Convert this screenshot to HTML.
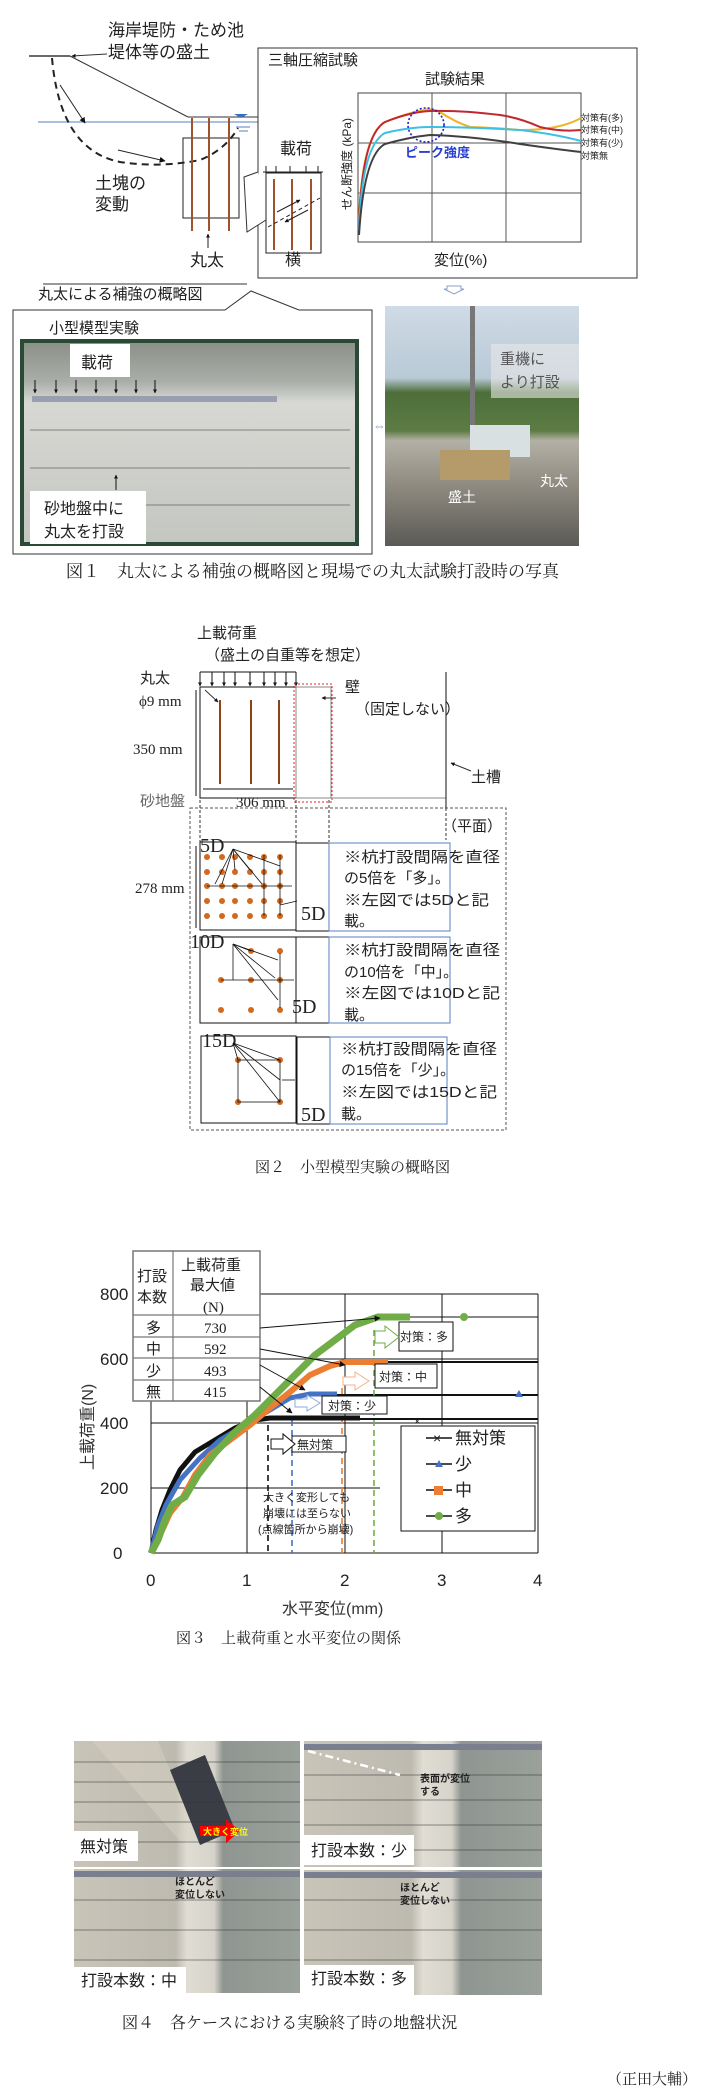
<!DOCTYPE html>
<html><head><meta charset="utf-8"><style>
html,body{margin:0;padding:0;background:#fff;}
svg{display:block;}
text{font-family:"Liberation Sans","Noto Sans CJK JP",sans-serif;fill:#222;}
.s{font-family:"Liberation Serif","Noto Serif CJK JP",serif;}
</style></head><body>
<svg width="705" height="2095" viewBox="0 0 705 2095" xmlns="http://www.w3.org/2000/svg">
<defs>
<marker id="ah" viewBox="0 0 10 10" refX="9" refY="5" markerWidth="6" markerHeight="6" orient="auto"><path d="M0,0L10,5L0,10z" fill="#111"/></marker>
<marker id="ahs" viewBox="0 0 10 10" refX="9" refY="5" markerWidth="4" markerHeight="4" orient="auto"><path d="M0,0L10,5L0,10z" fill="#111"/></marker>
<linearGradient id="sky" x1="0" y1="0" x2="0" y2="1"><stop offset="0" stop-color="#cfdbe6"/><stop offset="0.3" stop-color="#b9c9d6"/><stop offset="0.36" stop-color="#4d6e3a"/><stop offset="0.52" stop-color="#5d7c45"/><stop offset="0.56" stop-color="#b3b0a6"/><stop offset="0.75" stop-color="#8e8a80"/><stop offset="1" stop-color="#5b5a55"/></linearGradient>
<linearGradient id="tank" x1="0" y1="0" x2="0" y2="1"><stop offset="0" stop-color="#8a9088"/><stop offset="0.2" stop-color="#a9aea8"/><stop offset="0.3" stop-color="#d7d8d3"/><stop offset="1" stop-color="#c4c6c1"/></linearGradient>
<linearGradient id="ph" x1="0" y1="0" x2="1" y2="0"><stop offset="0" stop-color="#c9c4b8"/><stop offset="0.45" stop-color="#bdbab0"/><stop offset="0.5" stop-color="#e0ddd4"/><stop offset="0.62" stop-color="#d6d3ca"/><stop offset="0.66" stop-color="#8f9590"/><stop offset="1" stop-color="#9aa09a"/></linearGradient>
</defs>

<!-- ===== FIG 1 ===== -->
<text x="108" y="36" font-size="17">海岸堤防・ため池</text>
<text x="108" y="58" font-size="17">堤体等の盛土</text>
<line x1="107" y1="54" x2="72" y2="56" stroke="#333" marker-end="url(#ahs)"/>
<line x1="29" y1="56" x2="70" y2="56" stroke="#111" stroke-width="1.2"/>
<line x1="70" y1="56" x2="188" y2="117" stroke="#333"/>
<line x1="188" y1="117" x2="258" y2="117" stroke="#333"/>
<line x1="38" y1="122" x2="258" y2="122" stroke="#5b7fc2"/>
<path d="M241,118 l7,-4 h-14 z" fill="#3a6fc0"/>
<line x1="236" y1="127" x2="250" y2="127" stroke="#5b7fc2"/><line x1="239" y1="131" x2="248" y2="131" stroke="#5b7fc2"/>
<path d="M52,58 Q60,150 120,162 Q160,168 200,160 Q225,150 238,128" fill="none" stroke="#222" stroke-width="2" stroke-dasharray="7,5"/>
<line x1="60" y1="85" x2="85" y2="123" stroke="#222" marker-end="url(#ah)"/>
<line x1="118" y1="150" x2="165" y2="161" stroke="#222" marker-end="url(#ah)"/>
<rect x="183" y="138" width="56" height="80" fill="none" stroke="#222"/>
<line x1="192" y1="118" x2="192" y2="231" stroke="#a0522d" stroke-width="2"/>
<line x1="209" y1="118" x2="209" y2="231" stroke="#a0522d" stroke-width="2"/>
<line x1="229" y1="118" x2="229" y2="231" stroke="#a0522d" stroke-width="2"/>
<text x="95" y="189" font-size="17">土塊の</text><text x="95" y="210" font-size="17">変動</text>
<line x1="208" y1="248" x2="208" y2="234" stroke="#222" marker-end="url(#ahs)"/>
<text x="190" y="266" font-size="17">丸太</text>
<rect x="258" y="48" width="379" height="230" fill="none" stroke="#333"/>
<text x="268" y="65" font-size="15">三軸圧縮試験</text>
<text x="425" y="84" font-size="15">試験結果</text>
<path d="M258,172 L244,177 L247,232 L266,220" fill="#fff" stroke="#333"/>
<text x="280" y="154" font-size="16">載荷</text>
<line x1="263" y1="172" x2="323" y2="172" stroke="#222"/>
<g stroke="#222"><line x1="266" y1="166" x2="266" y2="173"/><line x1="276" y1="166" x2="276" y2="173"/><line x1="290" y1="166" x2="290" y2="173"/><line x1="306" y1="166" x2="306" y2="173"/><line x1="318" y1="166" x2="318" y2="173"/></g>
<rect x="266" y="173" width="55" height="80" fill="#fff" stroke="#222"/>
<line x1="274" y1="179" x2="274" y2="250" stroke="#a0522d" stroke-width="2"/>
<line x1="292" y1="179" x2="292" y2="250" stroke="#a0522d" stroke-width="2"/>
<line x1="311" y1="179" x2="311" y2="250" stroke="#a0522d" stroke-width="2"/>
<line x1="268" y1="227" x2="320" y2="198" stroke="#222" stroke-dasharray="4,3"/>
<line x1="277" y1="212" x2="300" y2="200" stroke="#222" marker-end="url(#ahs)"/>
<line x1="308" y1="210" x2="285" y2="222" stroke="#222" marker-end="url(#ahs)"/>
<text x="285" y="265" font-size="16">横</text>
<rect x="358" y="93" width="223" height="149" fill="none" stroke="#444"/>
<g stroke="#555"><line x1="432" y1="93" x2="432" y2="242"/><line x1="506" y1="93" x2="506" y2="242"/><line x1="358" y1="143" x2="581" y2="143"/><line x1="358" y1="193" x2="581" y2="193"/></g>
<text transform="translate(351,210) rotate(-90)" font-size="12">せん断強度 (kPa)</text>
<path d="M359,220 Q362,135 385,122 Q410,112 425,110 Q432,108 440,112 Q455,122 470,127 Q500,128 520,130 Q560,130 581,118" fill="none" stroke="#f0b323" stroke-width="2"/>
<path d="M359,225 Q362,135 385,122 Q410,112 430,111 Q460,110 500,115 Q520,118 540,127 Q560,132 581,130" fill="none" stroke="#c0282e" stroke-width="2"/>
<path d="M359,230 Q362,145 385,133 Q410,127 430,127 Q470,127 520,130 Q555,134 581,141" fill="none" stroke="#3cc0e6" stroke-width="2"/>
<path d="M359,235 Q364,155 385,144 Q410,137 430,135 Q470,136 520,144 Q555,149 581,152" fill="none" stroke="#404040" stroke-width="2"/>
<ellipse cx="426" cy="125" rx="18" ry="17" fill="none" stroke="#2020d0" stroke-width="1.6" stroke-dasharray="2,2"/>
<text x="405" y="157" font-size="13" font-weight="bold" style="fill:#2a3fd0">ピーク強度</text>
<g font-size="9" style="fill:#666"><text x="581" y="121">対策有(多)</text><text x="581" y="133">対策有(中)</text><text x="581" y="146">対策有(少)</text><text x="581" y="159">対策無</text></g>
<text x="434" y="265" font-size="15">変位(%)</text>
<path d="M447,286 h14 v3 h3 l-10,5 l-10,-5 h3z" fill="#fff" stroke="#8aa0c8"/>
<line x1="43" y1="284" x2="247" y2="284" stroke="#333"/>
<text x="38" y="299" font-size="15">丸太による補強の概略図</text>
<path d="M13,310 H225 L251,291 L299,310 H372 V554 H13 Z" fill="#fff" stroke="#333"/>
<text x="49" y="333" font-size="15">小型模型実験</text>
<rect x="22" y="341" width="335" height="203" fill="url(#tank)"/>
<rect x="22" y="341" width="335" height="203" fill="none" stroke="#2b4a36" stroke-width="4"/>
<rect x="32" y="396" width="245" height="6" fill="#9a9fb0"/>
<g stroke="#666" stroke-width="0.7"><line x1="30" y1="430" x2="350" y2="430"/><line x1="30" y1="468" x2="350" y2="468"/><line x1="30" y1="505" x2="350" y2="505"/></g>
<rect x="70" y="344" width="60" height="33" fill="#fff"/><text x="81" y="368" font-size="16">載荷</text>
<g stroke="#111"><line x1="35" y1="380" x2="35" y2="393" marker-end="url(#ahs)"/><line x1="56" y1="380" x2="56" y2="393" marker-end="url(#ahs)"/><line x1="76" y1="380" x2="76" y2="393" marker-end="url(#ahs)"/><line x1="96" y1="380" x2="96" y2="393" marker-end="url(#ahs)"/><line x1="116" y1="380" x2="116" y2="393" marker-end="url(#ahs)"/><line x1="136" y1="380" x2="136" y2="393" marker-end="url(#ahs)"/><line x1="155" y1="380" x2="155" y2="393" marker-end="url(#ahs)"/><line x1="116" y1="490" x2="116" y2="475" marker-end="url(#ahs)"/></g>
<rect x="30" y="491" width="116" height="53" fill="#fff"/><text x="44" y="514" font-size="16">砂地盤中に</text><text x="44" y="537" font-size="16">丸太を打設</text>
<text x="373" y="430" font-size="13" style="fill:#8aa0c8">⇔</text>
<rect x="385" y="306" width="194" height="240" fill="url(#sky)"/>
<rect x="470" y="306" width="5" height="150" fill="#777"/>
<rect x="470" y="425" width="60" height="32" fill="#d8e0e2"/>
<rect x="440" y="450" width="70" height="30" fill="#b59a6a"/>
<rect x="491" y="344" width="88" height="54" fill="#e8e8e8" opacity="0.6"/>
<text x="500" y="364" font-size="15" style="fill:#555">重機に</text><text x="500" y="387" font-size="15" style="fill:#555">より打設</text>
<text x="540" y="486" font-size="14" style="fill:#fff">丸太</text><text x="448" y="502" font-size="14" style="fill:#fff">盛土</text>
<text x="66" y="577" font-size="17" class="s">図１　丸太による補強の概略図と現場での丸太試験打設時の写真</text>

<!-- ===== FIG 2 ===== -->
<text x="197" y="638" font-size="15">上載荷重</text>
<text x="205" y="660" font-size="15">（盛土の自重等を想定）</text>
<line x1="200" y1="672" x2="296" y2="672" stroke="#111"/>
<g stroke="#111"><line x1="200" y1="672" x2="200" y2="686" marker-end="url(#ahs)"/><line x1="212" y1="672" x2="212" y2="686" marker-end="url(#ahs)"/><line x1="224" y1="672" x2="224" y2="686" marker-end="url(#ahs)"/><line x1="235" y1="672" x2="235" y2="686" marker-end="url(#ahs)"/><line x1="250" y1="672" x2="250" y2="686" marker-end="url(#ahs)"/><line x1="264" y1="672" x2="264" y2="686" marker-end="url(#ahs)"/><line x1="275" y1="672" x2="275" y2="686" marker-end="url(#ahs)"/><line x1="286" y1="672" x2="286" y2="686" marker-end="url(#ahs)"/><line x1="296" y1="672" x2="296" y2="686" marker-end="url(#ahs)"/></g>
<rect x="200" y="687" width="96" height="111" fill="none" stroke="#111"/>
<rect x="296" y="687" width="35" height="111" fill="none" stroke="#888"/>
<rect x="294" y="684" width="38" height="118" fill="none" stroke="#e02020" stroke-dasharray="2,2"/>
<line x1="296" y1="798" x2="446" y2="798" stroke="#888"/>
<line x1="446" y1="672" x2="446" y2="808" stroke="#111"/>
<g stroke="#8b4513" stroke-width="2"><line x1="220" y1="700" x2="220" y2="784"/><line x1="251" y1="700" x2="251" y2="784"/><line x1="279" y1="700" x2="279" y2="784"/></g>
<text x="140" y="683" font-size="15">丸太</text>
<text x="139" y="706" font-size="15" class="s">ϕ9 mm</text>
<line x1="205" y1="690" x2="218" y2="702" stroke="#333" marker-end="url(#ahs)"/>
<text x="133" y="754" font-size="15" class="s">350 mm</text>
<line x1="196" y1="690" x2="196" y2="796" stroke="#111"/>
<text x="140" y="806" font-size="15" style="fill:#666">砂地盤</text>
<line x1="203" y1="789" x2="293" y2="789" stroke="#111"/>
<text x="236" y="807" font-size="15" class="s">306 mm</text>
<text x="345" y="692" font-size="15">壁</text>
<text x="355" y="714" font-size="15">（固定しない）</text>
<line x1="336" y1="698" x2="322" y2="698" stroke="#333" marker-end="url(#ahs)"/>
<line x1="471" y1="771" x2="451" y2="763" stroke="#333" marker-end="url(#ahs)"/>
<text x="471" y="782" font-size="15">土槽</text>
<rect x="190" y="808" width="316" height="322" fill="none" stroke="#555" stroke-dasharray="3,2"/>
<g stroke="#333" stroke-dasharray="3,2"><line x1="200" y1="800" x2="200" y2="842"/><line x1="296" y1="800" x2="296" y2="842"/><line x1="329" y1="800" x2="329" y2="842"/><line x1="446" y1="808" x2="446" y2="840"/></g>
<text x="442" y="831" font-size="15">（平面）</text>
<!-- 5D panel -->
<rect x="200" y="842" width="96" height="88" fill="none" stroke="#111"/>
<rect x="296" y="843" width="33" height="88" fill="none" stroke="#111"/>
<rect x="329" y="843" width="121" height="88" fill="none" stroke="#5b7fc2"/>
<text x="200" y="852" font-size="20" class="s">5D</text>
<text x="301" y="920" font-size="20" class="s">5D</text>
<text x="135" y="893" font-size="15" class="s">278 mm</text>
<line x1="196" y1="846" x2="196" y2="928" stroke="#111"/>
<g fill="#d2691e">
<circle cx="207" cy="857" r="3"/><circle cx="222" cy="857" r="3"/><circle cx="235" cy="857" r="3"/><circle cx="250" cy="857" r="3"/><circle cx="264" cy="857" r="3"/><circle cx="280" cy="857" r="3"/>
<circle cx="207" cy="872" r="3"/><circle cx="222" cy="872" r="3"/><circle cx="235" cy="872" r="3"/><circle cx="250" cy="872" r="3"/><circle cx="264" cy="872" r="3"/><circle cx="280" cy="872" r="3"/>
<circle cx="207" cy="886" r="3"/><circle cx="222" cy="886" r="3"/><circle cx="235" cy="886" r="3"/><circle cx="250" cy="886" r="3"/><circle cx="264" cy="886" r="3"/><circle cx="280" cy="886" r="3"/>
<circle cx="207" cy="901" r="3"/><circle cx="222" cy="901" r="3"/><circle cx="235" cy="901" r="3"/><circle cx="250" cy="901" r="3"/><circle cx="264" cy="901" r="3"/><circle cx="280" cy="901" r="3"/>
<circle cx="207" cy="916" r="3"/><circle cx="222" cy="916" r="3"/><circle cx="235" cy="916" r="3"/><circle cx="250" cy="916" r="3"/><circle cx="264" cy="916" r="3"/><circle cx="280" cy="916" r="3"/>
</g>
<g stroke="#111" stroke-width="0.8"><line x1="233" y1="849" x2="215" y2="884"/><line x1="233" y1="849" x2="222" y2="884"/><line x1="233" y1="849" x2="235" y2="870"/><line x1="233" y1="849" x2="250" y2="870"/><line x1="233" y1="849" x2="262" y2="884"/><line x1="233" y1="849" x2="280" y2="866"/><line x1="207" y1="886" x2="292" y2="886"/><line x1="264" y1="855" x2="264" y2="916"/><line x1="280" y1="855" x2="280" y2="916"/><line x1="280" y1="905" x2="297" y2="901"/></g>
<g font-size="15" style="fill:#333"><text x="344" y="862" textLength="156" lengthAdjust="spacingAndGlyphs">※杭打設間隔を直径</text><text x="344" y="883">の5倍を「多」。</text><text x="344" y="905" textLength="145" lengthAdjust="spacingAndGlyphs">※左図では5Dと記</text><text x="344" y="926">載。</text></g>
<!-- 10D -->
<rect x="200" y="937" width="96" height="86" fill="none" stroke="#111"/>
<rect x="296" y="937" width="33" height="86" fill="none" stroke="#111"/>
<rect x="329" y="937" width="121" height="86" fill="none" stroke="#5b7fc2"/>
<text x="190" y="948" font-size="20" class="s">10D</text>
<text x="292" y="1013" font-size="20" class="s">5D</text>
<g fill="#d2691e"><circle cx="251" cy="951" r="3"/><circle cx="280" cy="951" r="3"/><circle cx="221" cy="980" r="3"/><circle cx="251" cy="980" r="3"/><circle cx="280" cy="980" r="3"/><circle cx="221" cy="1010" r="3"/><circle cx="251" cy="1010" r="3"/><circle cx="280" cy="1010" r="3"/></g>
<g stroke="#111" stroke-width="0.8"><line x1="233" y1="944" x2="233" y2="980"/><line x1="233" y1="944" x2="251" y2="951"/><line x1="233" y1="944" x2="278" y2="960"/><line x1="233" y1="944" x2="275" y2="978"/><line x1="233" y1="944" x2="278" y2="1000"/><line x1="221" y1="980" x2="294" y2="980"/><line x1="280" y1="953" x2="280" y2="1008"/></g>
<g font-size="15" style="fill:#333"><text x="344" y="955" textLength="156" lengthAdjust="spacingAndGlyphs">※杭打設間隔を直径</text><text x="344" y="977">の10倍を「中」。</text><text x="344" y="998" textLength="156" lengthAdjust="spacingAndGlyphs">※左図では10Dと記</text><text x="344" y="1020">載。</text></g>
<!-- 15D -->
<rect x="201" y="1036" width="95" height="87" fill="none" stroke="#111"/>
<rect x="297" y="1037" width="33" height="87" fill="none" stroke="#111"/>
<rect x="330" y="1037" width="117" height="87" fill="none" stroke="#5b7fc2"/>
<text x="202" y="1047" font-size="20" class="s">15D</text>
<text x="301" y="1121" font-size="20" class="s">5D</text>
<g fill="#d2691e"><circle cx="238" cy="1060" r="3"/><circle cx="280" cy="1060" r="3"/><circle cx="238" cy="1102" r="3"/><circle cx="280" cy="1102" r="3"/></g>
<g stroke="#111" stroke-width="0.8"><rect x="238" y="1060" width="42" height="42" fill="none"/><line x1="233" y1="1043" x2="238" y2="1060"/><line x1="233" y1="1043" x2="280" y2="1060"/><line x1="233" y1="1043" x2="280" y2="1080"/><line x1="233" y1="1043" x2="280" y2="1102"/><line x1="282" y1="1080" x2="295" y2="1080"/></g>
<g font-size="15" style="fill:#333"><text x="341" y="1054" textLength="156" lengthAdjust="spacingAndGlyphs">※杭打設間隔を直径</text><text x="341" y="1075">の15倍を「少」。</text><text x="341" y="1097" textLength="156" lengthAdjust="spacingAndGlyphs">※左図では15Dと記</text><text x="341" y="1119">載。</text></g>
<text x="255" y="1172" font-size="15" class="s">図２　小型模型実験の概略図</text>

<!-- ===== FIG 3 ===== -->
<g stroke="#111" stroke-width="1"><line x1="151" y1="1294" x2="538" y2="1294"/><line x1="151" y1="1359" x2="538" y2="1359"/><line x1="151" y1="1423" x2="538" y2="1423"/><line x1="151" y1="1488" x2="380" y2="1488"/><line x1="151" y1="1553" x2="538" y2="1553"/><line x1="151" y1="1294" x2="151" y2="1553"/><line x1="247" y1="1294" x2="247" y2="1553"/><line x1="345" y1="1294" x2="345" y2="1553"/><line x1="442" y1="1294" x2="442" y2="1553"/><line x1="538" y1="1294" x2="538" y2="1553"/><line x1="380" y1="1317" x2="538" y2="1317"/></g>
<g stroke="#111" stroke-width="2"><line x1="345" y1="1362" x2="538" y2="1362"/><line x1="310" y1="1395" x2="538" y2="1395"/><line x1="270" y1="1419" x2="538" y2="1419"/></g>
<g font-size="17" style="fill:#333"><text x="100" y="1300">800</text><text x="100" y="1365">600</text><text x="100" y="1429">400</text><text x="100" y="1494">200</text><text x="113" y="1559">0</text>
<text x="146" y="1586">0</text><text x="242" y="1586">1</text><text x="340" y="1586">2</text><text x="437" y="1586">3</text><text x="533" y="1586">4</text></g>
<text transform="translate(93,1470) rotate(-90)" font-size="16" style="fill:#333">上載荷重(N)</text>
<text x="282" y="1614" font-size="16" style="fill:#333">水平変位(mm)</text>
<!-- dashed -->
<g stroke-width="1.6" stroke-dasharray="6,4"><line x1="268" y1="1425" x2="268" y2="1553" stroke="#111"/><line x1="292" y1="1420" x2="292" y2="1553" stroke="#4472c4"/><line x1="342" y1="1388" x2="342" y2="1553" stroke="#ed7d31"/><line x1="374" y1="1330" x2="374" y2="1553" stroke="#70ad47"/></g>
<!-- curves -->
<polyline fill="none" stroke="#111" stroke-width="5" points="151,1553 156,1530 162,1510 170,1490 180,1470 195,1452 215,1440 235,1428 255,1420 270,1418 360,1418"/>
<polyline fill="none" stroke="#4472c4" stroke-width="5" points="151,1553 158,1525 166,1505 180,1480 200,1458 220,1440 245,1425 270,1410 290,1398 310,1394 337,1394"/>
<polyline fill="none" stroke="#ed7d31" stroke-width="6" points="151,1553 160,1535 170,1513 183,1497 195,1475 210,1455 230,1440 250,1425 270,1408 290,1392 310,1375 330,1366 345,1362 388,1362"/>
<polyline fill="none" stroke="#70ad47" stroke-width="7" points="151,1553 158,1540 165,1520 172,1505 185,1497 198,1475 215,1453 235,1432 255,1415 275,1395 295,1375 315,1355 335,1340 355,1325 378,1317 410,1317"/>
<circle cx="464" cy="1317" r="4" fill="#70ad47"/>
<path d="M515,1397 l4,-7 l4,7z" fill="#4472c4"/>
<text x="414" y="1425" font-size="11">×</text>
<!-- table -->
<rect x="133" y="1251" width="127" height="150" fill="#fff" stroke="#777" stroke-width="1.5"/>
<g stroke="#777" stroke-width="1.2"><line x1="173" y1="1251" x2="173" y2="1401"/><line x1="133" y1="1315" x2="260" y2="1315"/><line x1="133" y1="1337" x2="260" y2="1337"/><line x1="133" y1="1358" x2="260" y2="1358"/><line x1="133" y1="1380" x2="260" y2="1380"/></g>
<g font-size="15" style="fill:#222"><text x="137" y="1281">打設</text><text x="137" y="1302">本数</text><text x="181" y="1270">上載荷重</text><text x="190" y="1290">最大値</text><text x="203" y="1312" class="s">(N)</text>
<text x="146" y="1333">多</text><text x="146" y="1354">中</text><text x="146" y="1376">少</text><text x="146" y="1397">無</text>
<g class="s"><text x="204" y="1333" class="s">730</text><text x="204" y="1354" class="s">592</text><text x="204" y="1376" class="s">493</text><text x="204" y="1397" class="s">415</text></g></g>
<g stroke="#111"><line x1="260" y1="1328" x2="380" y2="1318" marker-end="url(#ah)"/><line x1="260" y1="1349" x2="345" y2="1365" marker-end="url(#ah)"/><line x1="260" y1="1365" x2="305" y2="1390" marker-end="url(#ah)"/><line x1="260" y1="1387" x2="292" y2="1413" marker-end="url(#ah)"/></g>
<!-- annotations -->
<g font-size="12"><rect x="399" y="1322" width="54" height="29" fill="#fff" stroke="#111"/><text x="400" y="1341">対策：多</text>
<rect x="375" y="1364" width="62" height="24" fill="#fff" stroke="#111"/><text x="379" y="1381">対策：中</text>
<rect x="322" y="1396" width="65" height="18" fill="#fff" stroke="#111"/><text x="328" y="1410">対策：少</text>
<rect x="292" y="1436" width="54" height="16" fill="#fff" stroke="#111"/><text x="297" y="1449">無対策</text></g>
<path d="M375,1331 h10 v-5 l14,11 l-14,11 v-5 h-10z" fill="#fff" stroke="#70ad47"/>
<path d="M343,1377 h12 v-5 l14,9 l-14,9 v-5 h-12z" fill="#fff" stroke="#f4b183"/>
<path d="M295,1399 h12 v-4 l13,8 l-13,8 v-4 h-12z" fill="#fff" stroke="#8faadc"/>
<path d="M271,1439 h12 v-5 l12,10 l-12,10 v-5 h-12z" fill="#fff" stroke="#111"/>
<g font-size="11"><text x="263" y="1501">大きく変形しても</text><text x="263" y="1517">崩壊には至らない</text><text x="258" y="1533">(点線箇所から崩壊)</text></g>
<rect x="401" y="1426" width="134" height="105" fill="#fff" stroke="#111"/>
<g stroke="#111" stroke-width="1.5"><line x1="426" y1="1438" x2="452" y2="1438"/><line x1="426" y1="1464" x2="452" y2="1464"/><line x1="426" y1="1490" x2="452" y2="1490"/><line x1="426" y1="1516" x2="452" y2="1516"/></g>
<text x="433" y="1443" font-size="14">×</text>
<path d="M435,1467 l4,-7 l4,7z" fill="#4472c4"/>
<rect x="434" y="1486" width="9" height="9" fill="#ed7d31"/>
<circle cx="439" cy="1516" r="4" fill="#70ad47"/>
<g font-size="17" style="fill:#333"><text x="455" y="1444">無対策</text><text x="455" y="1470">少</text><text x="455" y="1496">中</text><text x="455" y="1522">多</text></g>
<text x="176" y="1643" font-size="15" class="s">図３　上載荷重と水平変位の関係</text>

<!-- ===== FIG 4 ===== -->
<rect x="74" y="1741" width="226" height="126" fill="url(#ph)"/>
<path d="M92,1741 L180,1841 L200,1841 L158,1741z" fill="#d8d2c4" opacity="0.5"/>
<path d="M170,1770 L205,1755 L235,1830 L200,1845z" fill="#3a3d45"/>
<path d="M200,1826 h26 v-7 l14,12 l-14,12 v-7 h-26z" fill="#f00"/><text x="203" y="1835" font-size="9" font-weight="bold" style="fill:#ff0">大きく変位</text>
<rect x="304" y="1741" width="238" height="126" fill="url(#ph)"/>
<rect x="74" y="1869" width="226" height="124" fill="url(#ph)"/>
<rect x="304" y="1870" width="238" height="125" fill="url(#ph)"/>
<g stroke="#333" stroke-width="0.7" opacity="0.7">
<line x1="74" y1="1762" x2="300" y2="1762"/><line x1="74" y1="1782" x2="300" y2="1782"/><line x1="74" y1="1802" x2="300" y2="1802"/><line x1="74" y1="1822" x2="300" y2="1822"/><line x1="74" y1="1842" x2="300" y2="1842"/>
<line x1="304" y1="1775" x2="542" y2="1775"/><line x1="304" y1="1800" x2="542" y2="1800"/><line x1="304" y1="1825" x2="542" y2="1825"/><line x1="304" y1="1850" x2="542" y2="1850"/>
<line x1="74" y1="1900" x2="300" y2="1900"/><line x1="74" y1="1930" x2="300" y2="1930"/><line x1="74" y1="1960" x2="300" y2="1960"/>
<line x1="304" y1="1900" x2="542" y2="1900"/><line x1="304" y1="1930" x2="542" y2="1930"/><line x1="304" y1="1960" x2="542" y2="1960"/></g>
<rect x="304" y="1744" width="238" height="6" fill="#7a7f90"/><rect x="74" y="1871" width="226" height="6" fill="#7a7f90"/><rect x="304" y="1872" width="238" height="6" fill="#7a7f90"/>
<line x1="308" y1="1751" x2="400" y2="1775" stroke="#fff" stroke-width="2.5" stroke-dasharray="8,4,2,4"/>
<g font-size="10" font-weight="bold" style="fill:#fff"><text x="420" y="1782">表面が変位</text><text x="420" y="1795">する</text><text x="175" y="1885">ほとんど</text><text x="175" y="1898">変位しない</text><text x="400" y="1891">ほとんど</text><text x="400" y="1904">変位しない</text></g>
<rect x="74" y="1831" width="64" height="30" fill="#fff"/><text x="80" y="1852" font-size="16">無対策</text>
<rect x="304" y="1835" width="110" height="30" fill="#fff"/><text x="311" y="1856" font-size="16">打設本数：少</text>
<rect x="74" y="1967" width="112" height="26" fill="#fff"/><text x="81" y="1986" font-size="16">打設本数：中</text>
<rect x="304" y="1965" width="110" height="30" fill="#fff"/><text x="311" y="1984" font-size="16">打設本数：多</text>
<text x="122" y="2028" font-size="16" class="s">図４　各ケースにおける実験終了時の地盤状況</text>
<text x="607" y="2084" font-size="15" class="s">（正田大輔）</text>
</svg>
</body></html>
